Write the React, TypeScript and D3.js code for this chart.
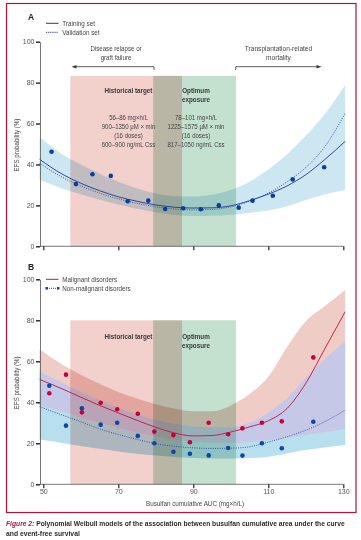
import { useRef, useEffect } from "react";
import * as d3 from "d3";

const xTicks = [50, 70, 90, 110, 130];
const yTicks = [0, 20, 40, 60, 80, 100];

// fitted curves are read at these AUC values
const gridAuc = [49, 55, 60, 65, 70, 75, 80, 85, 90, 95, 100, 105, 110, 115, 120, 125, 130.5];

// Panel A: training / validation
const trainEfs = [42.5, 35.3, 30.8, 27.2, 24.2, 22.0, 20.2, 19.1, 18.7, 18.8, 19.8, 22.3, 25.5, 29.5, 35.0, 42.3, 51.3];
const validEfs = [40.6, 33.8, 29.5, 26.0, 23.2, 21.0, 19.3, 18.2, 17.8, 18.0, 19.3, 22.0, 26.0, 31.5, 38.5, 48.5, 65.0];
const bandAUpper = [53.4, 45.0, 40.0, 35.5, 31.5, 28.3, 25.8, 24.5, 24.3, 25.2, 27.5, 31.5, 37.5, 45.0, 54.0, 64.5, 78.8];
const bandALower = [32.4, 28.3, 25.4, 22.8, 20.4, 18.3, 16.6, 15.3, 14.8, 14.9, 15.4, 16.3, 17.5, 19.6, 22.6, 25.3, 27.5];
const pointAucA = [52.2, 58.7, 63.1, 68.0, 72.5, 78.0, 82.5, 87.3, 92.0, 96.8, 102.1, 105.8, 111.2, 116.5, 124.9];
const pointEfsA = [46.2, 30.4, 35.2, 34.4, 22.0, 22.3, 18.2, 18.6, 18.1, 20.0, 18.9, 22.3, 24.7, 32.7, 38.6];

// Panel B: malignant / non-malignant
const malignantEfs = [51.2, 46.6, 42.5, 38.5, 34.8, 31.2, 27.8, 25.0, 23.6, 23.8, 25.5, 28.0, 31.0, 37.0, 49.3, 65.9, 84.2];
const nonMalignantEfs = [37.9, 33.8, 30.5, 27.0, 24.3, 21.9, 19.8, 18.5, 17.8, 17.5, 17.6, 18.3, 20.6, 23.2, 26.4, 30.5, 36.2];
const malignantUpper = [65.7, 58.5, 53.5, 49.0, 45.0, 41.8, 39.0, 36.8, 35.6, 35.6, 38.5, 44.0, 52.5, 67.0, 79.5, 86.8, 94.8];
const malignantLower = [38.7, 35.5, 32.5, 30.0, 27.5, 25.3, 23.3, 21.8, 20.8, 20.3, 20.3, 20.8, 21.6, 22.7, 24.0, 25.5, 27.0];
const nonMalUpper = [55.0, 49.5, 45.0, 41.0, 37.5, 34.0, 31.5, 29.5, 28.3, 27.8, 28.0, 30.0, 35.0, 42.0, 52.0, 61.0, 69.6];
const nonMalLower = [21.8, 20.2, 18.7, 17.3, 16.0, 14.9, 14.0, 13.3, 12.8, 12.6, 12.6, 12.8, 13.5, 15.0, 16.8, 18.0, 19.2];
const pointAucB = [51.6, 56.05, 60.3, 65.3, 69.7, 75.2, 79.6, 84.7, 89.1, 94.1, 99.3, 103.1, 108.3, 113.6, 122.0];
const malignantPts = [44.4, 53.5, 35.1, 39.8, 36.6, 34.4, 25.7, 24.0, 20.5, 30.0, 24.4, 27.3, 30.0, 30.7, 61.9];
const nonMalignantPts = [48.1, 28.6, 37.1, 29.1, 30.0, 23.6, 20.0, 15.9, 14.9, 14.1, 17.7, 14.0, 20.0, 17.6, 30.5];

// exposure windows (AUC)
const historicalRange = [57.2, 87];
const optimumRange = [79.3, 101.4];
const historicalLines = ["56–86 mg×h/L", "900–1350 µM × min", "(16 doses)", "600–900 ng/mL Css"];
const optimumLines = ["78–101 mg×h/L", "1225–1575 µM × min", "(16 doses)", "817–1050 ng/mL Css"];

const W = 361;
const H = 540;
const FONT = "'Liberation Sans', Arial, sans-serif";
const NARROW = 0.84; // the journal font is condensed

const App = () => {
  const ref = useRef<SVGSVGElement | null>(null);

  useEffect(() => {
    if (!ref.current) return;
    const svg = d3.select(ref.current);
    svg.selectAll("*").remove();

    svg.append("rect").attr("width", W).attr("height", H).attr("fill", "#fff");

    const x = d3.scaleLinear().domain([50, 130]).range([43.3, 343.3]);
    const yA = d3.scaleLinear().domain([0, 100]).range([246.3, 41.7]);
    const yB = d3.scaleLinear().domain([0, 100]).range([484.3, 279.3]);

    const area = (y: d3.ScaleLinear<number, number>, lo: number[], hi: number[]) =>
      d3
        .area<number>()
        .x((d) => x(d))
        .y0((_, i) => y(lo[i]))
        .y1((_, i) => y(hi[i]))
        .curve(d3.curveMonotoneX)(gridAuc) ?? "";

    const line = (y: d3.ScaleLinear<number, number>, vals: number[]) =>
      d3
        .line<number>()
        .x((d) => x(d))
        .y((_, i) => y(vals[i]))
        .curve(d3.curveMonotoneX)(gridAuc) ?? "";

    // condensed-looking text: squeeze horizontally around the anchor point
    const text = (
      tx: number,
      ty: number,
      s: string,
      size = 7,
      opts: { anchor?: string; weight?: string; fill?: string; sx?: number } = {}
    ) =>
      svg
        .append("text")
        .attr("transform", `translate(${tx},${ty}) scale(${opts.sx ?? NARROW},1)`)
        .attr("font-family", FONT)
        .attr("font-size", size)
        .attr("text-anchor", opts.anchor ?? "start")
        .attr("font-weight", opts.weight ?? "normal")
        .attr("fill", opts.fill ?? "#333")
        .text(s);

    const shading = (y: d3.ScaleLinear<number, number>, top: number) => {
      svg
        .append("rect")
        .attr("x", x(historicalRange[0]))
        .attr("width", x(historicalRange[1]) - x(historicalRange[0]))
        .attr("y", y(top))
        .attr("height", y(0) - y(top))
        .attr("fill", "#f2d0cb")
        .style("mix-blend-mode", "multiply");
      svg
        .append("rect")
        .attr("x", x(optimumRange[0]))
        .attr("width", x(optimumRange[1]) - x(optimumRange[0]))
        .attr("y", y(top))
        .attr("height", y(0) - y(top))
        .attr("fill", "#c4e0cf")
        .style("mix-blend-mode", "multiply");
    };

    const axes = (y: d3.ScaleLinear<number, number>, labels: boolean) => {
      const gy = svg
        .append("g")
        .attr("transform", "translate(40,0)")
        .call(d3.axisLeft(y).tickValues(yTicks).tickSize(4).tickPadding(1.5).tickSizeOuter(0));
      gy.select(".domain").attr("stroke", "#555").attr("stroke-width", 0.8);
      gy.selectAll(".tick line").attr("stroke", "#222").attr("stroke-width", 1.4);
      gy.selectAll(".tick text").attr("font-family", FONT).attr("font-size", 7).attr("fill", "#555");

      svg
        .append("line")
        .attr("x1", 40)
        .attr("x2", x(130))
        .attr("y1", y(0))
        .attr("y2", y(0))
        .attr("stroke", "#555")
        .attr("stroke-width", 0.8);
      const gx = svg
        .append("g")
        .attr("transform", `translate(0,${y(0)})`)
        .call(
          d3
            .axisBottom(x)
            .tickValues(xTicks)
            .tickSize(4)
            .tickPadding(1)
            .tickSizeOuter(0)
            .tickFormat((d) => (labels ? String(d) : ""))
        );
      gx.select(".domain").remove();
      gx.selectAll(".tick line").attr("stroke", "#222").attr("stroke-width", 1.2);
      gx.selectAll(".tick text").attr("font-family", FONT).attr("font-size", 7).attr("fill", "#555");

      const mid = (y(0) + y(100)) / 2 + 1;
      svg
        .append("text")
        .attr("transform", `translate(19,${mid}) rotate(-90) scale(${NARROW},1)`)
        .attr("text-anchor", "middle")
        .attr("font-family", FONT)
        .attr("font-size", 7.3)
        .attr("fill", "#444")
        .text("EFS probability (%)");
    };

    const dots = (aucs: number[], y: d3.ScaleLinear<number, number>, vals: number[], color: string) =>
      svg
        .append("g")
        .selectAll("circle")
        .data(aucs)
        .join("circle")
        .attr("cx", (d) => x(d))
        .attr("cy", (_, i) => y(vals[i]))
        .attr("r", 2.3)
        .attr("fill", color);

    // ---------- Panel A ----------
    svg.append("path").attr("d", area(yA, bandALower, bandAUpper)).attr("fill", "#cce7f2");
    shading(yA, 83.3);
    svg.append("path").attr("d", line(yA, trainEfs)).attr("fill", "none").attr("stroke", "#1e3a8c").attr("stroke-width", 0.9);
    svg
      .append("path")
      .attr("d", line(yA, validEfs))
      .attr("fill", "none")
      .attr("stroke", "#2a4aa6")
      .attr("stroke-width", 0.9)
      .attr("stroke-dasharray", "1,1.3");
    dots(pointAucA, yA, pointEfsA, "#0b3d9b");
    axes(yA, false);

    text(28, 19.5, "A", 8.5, { weight: "bold", fill: "#222", sx: 1 });
    svg.append("line").attr("x1", 46).attr("x2", 58.5).attr("y1", 23.3).attr("y2", 23.3).attr("stroke", "#1e3a8c").attr("stroke-width", 1);
    text(62.3, 25.8, "Training set", 7.5, { fill: "#444" });
    svg
      .append("line")
      .attr("x1", 46)
      .attr("x2", 58.5)
      .attr("y1", 32.3)
      .attr("y2", 32.3)
      .attr("stroke", "#1e3a8c")
      .attr("stroke-width", 1)
      .attr("stroke-dasharray", "1.2,0.9");
    text(62.3, 34.8, "Validation set", 7.5, { fill: "#444" });

    // annotation arrows
    text(116, 50.5, "Disease relapse or", 7, { anchor: "middle", fill: "#444", sx: 0.88 });
    text(116, 59.5, "graft failure", 7, { anchor: "middle", fill: "#444", sx: 0.88 });
    text(278.5, 50.5, "Transplantation-related", 7, { anchor: "middle", fill: "#444", sx: 0.94 });
    text(278.5, 59.5, "mortality", 7, { anchor: "middle", fill: "#444", sx: 0.94 });
    const arrowColor = "#3a3a3a";
    svg.append("path").attr("d", "M154,70V66.7H75").attr("fill", "none").attr("stroke", arrowColor).attr("stroke-width", 0.8);
    svg.append("path").attr("d", "M71.5,66.7L76.5,64.9L76.5,68.5Z").attr("fill", arrowColor);
    svg.append("path").attr("d", "M235.7,70V66.7H318").attr("fill", "none").attr("stroke", arrowColor).attr("stroke-width", 0.8);
    svg.append("path").attr("d", "M321.5,66.7L316.5,64.9L316.5,68.5Z").attr("fill", arrowColor);

    // window labels
    const histX = 128.5;
    const optX = 196;
    text(histX, 92.8, "Historical target", 7, { anchor: "middle", weight: "bold", fill: "#3a3a3a", sx: 0.9 });
    text(optX, 92.8, "Optimum", 7, { anchor: "middle", weight: "bold", fill: "#3a3a3a", sx: 0.9 });
    text(optX, 101.8, "exposure", 7, { anchor: "middle", weight: "bold", fill: "#3a3a3a", sx: 0.9 });
    historicalLines.forEach((s, i) => text(histX, 119.8 + i * 9, s, 7.2, { anchor: "middle", fill: "#444" }));
    optimumLines.forEach((s, i) => text(optX, 119.8 + i * 9, s, 7.2, { anchor: "middle", fill: "#444" }));

    // ---------- Panel B ----------
    const redBand = area(yB, malignantLower, malignantUpper);
    const blueBand = area(yB, nonMalLower, nonMalUpper);
    svg.append("defs").append("clipPath").attr("id", "redBandClip").append("path").attr("d", redBand);
    svg.append("path").attr("d", blueBand).attr("fill", "#b7dfee");
    svg.append("path").attr("d", redBand).attr("fill", "#f0ccc7");
    svg.append("path").attr("d", blueBand).attr("fill", "#c5c8e6").attr("clip-path", "url(#redBandClip)");
    shading(yB, 80);
    svg.append("path").attr("d", line(yB, malignantEfs)).attr("fill", "none").attr("stroke", "#c4143e").attr("stroke-width", 0.9);
    svg
      .append("path")
      .attr("d", line(yB, nonMalignantEfs))
      .attr("fill", "none")
      .attr("stroke", "#2a4aa6")
      .attr("stroke-width", 0.9)
      .attr("stroke-dasharray", "1,1.3");
    dots(pointAucB, yB, malignantPts, "#c3003a");
    dots(pointAucB, yB, nonMalignantPts, "#0f46a5");
    axes(yB, true);

    text(28, 269.5, "B", 8.5, { weight: "bold", fill: "#222", sx: 1 });
    svg.append("line").attr("x1", 46).attr("x2", 58.5).attr("y1", 279.3).attr("y2", 279.3).attr("stroke", "#c4143e").attr("stroke-width", 1);
    text(62.3, 281.8, "Malignant disorders", 7.5, { fill: "#444" });
    svg
      .append("line")
      .attr("x1", 47)
      .attr("x2", 57.5)
      .attr("y1", 288.3)
      .attr("y2", 288.3)
      .attr("stroke", "#2a4aa6")
      .attr("stroke-width", 1)
      .attr("stroke-dasharray", "1,1");
    svg.append("rect").attr("x", 45.5).attr("y", 287).attr("width", 2.4).attr("height", 2.6).attr("fill", "#0f46a5");
    svg.append("rect").attr("x", 57).attr("y", 287).attr("width", 2.4).attr("height", 2.6).attr("fill", "#0f46a5");
    text(62.3, 290.8, "Non-malignant disorders", 7.5, { fill: "#444" });

    text(histX, 338.5, "Historical target", 7, { anchor: "middle", weight: "bold", fill: "#3a3a3a", sx: 0.9 });
    text(optX, 339, "Optimum", 7, { anchor: "middle", weight: "bold", fill: "#3a3a3a", sx: 0.9 });
    text(optX, 348, "exposure", 7, { anchor: "middle", weight: "bold", fill: "#3a3a3a", sx: 0.9 });

    text(195, 505.5, "Busulfan cumulative AUC (mg×h/L)", 7.5, { anchor: "middle", fill: "#444" });

    // ---------- frame and caption ----------
    svg
      .append("rect")
      .attr("x", 6.5)
      .attr("y", 3.5)
      .attr("width", 349.5)
      .attr("height", 509)
      .attr("fill", "none")
      .attr("stroke", "#b3123f")
      .attr("stroke-width", 1.2);

    const cap = svg
      .append("text")
      .attr("transform", `translate(6,525.8) scale(0.86,1)`)
      .attr("font-family", FONT)
      .attr("font-size", 7.8)
      .attr("font-weight", "bold")
      .attr("fill", "#2a2a2a");
    cap.append("tspan").attr("font-style", "italic").attr("fill", "#b3123f").text("Figure 2: ");
    cap.append("tspan").text("Polynomial Weibull models of the association between busulfan cumulative area under the curve");
    text(6, 536, "and event-free survival", 7.8, { weight: "bold", fill: "#2a2a2a", sx: 0.87 });
  }, []);

  return <svg ref={ref} width={W} height={H} style={{ position: "absolute", left: 0, top: 0 }} />;
};

export default App;
